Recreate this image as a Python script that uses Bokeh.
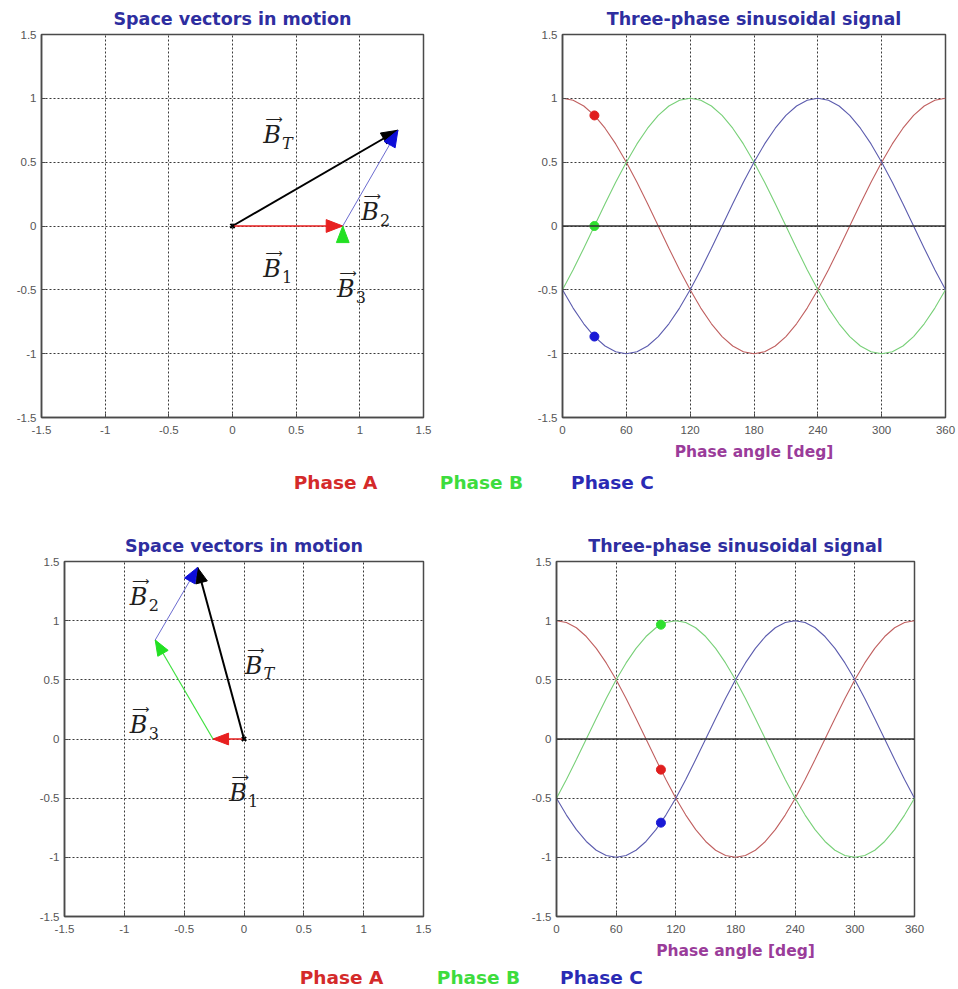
import math

from bokeh.core.properties import value
from bokeh.embed import file_html
from bokeh.layouts import column, row
from bokeh.models import FixedTicker, Range1d, Span
from bokeh.plotting import figure
from bokeh.resources import INLINE

# ---------------------------------------------------------------------------
# Data
# ---------------------------------------------------------------------------
# Phase angle grid (deg) and the phase A waveform sampled every 10 deg
angle_deg = list(range(0, 361, 10))
phase_a = [1.0, 0.985, 0.940, 0.866, 0.766, 0.643, 0.5, 0.342, 0.174, 0.0,
           -0.174, -0.342, -0.5, -0.643, -0.766, -0.866, -0.940, -0.985, -1.0,
           -0.985, -0.940, -0.866, -0.766, -0.643, -0.5, -0.342, -0.174, 0.0,
           0.174, 0.342, 0.5, 0.643, 0.766, 0.866, 0.940, 0.985, 1.0]

# phases B and C lag phase A by 120 and 240 deg (12 and 24 samples)
_period = phase_a[:-1]
phase_b = [_period[(i - 12) % 36] for i in range(len(angle_deg))]
phase_c = [_period[(i - 24) % 36] for i in range(len(angle_deg))]

# the two snapshots shown: phase angle and instantaneous phase values
snapshot_deg = [30, 105]
snapshot_a = [0.866, -0.259]
snapshot_b = [0.0, 0.966]
snapshot_c = [-0.866, -0.707]

# spatial direction of each phase winding
phase_axis_deg = [0, 120, 240]
phase_names = ["Phase A", "Phase B", "Phase C"]

vector_ticks = [-1.5, -1, -0.5, 0, 0.5, 1, 1.5]
vector_tick_labels = ["-1.5", "-1", "-0.5", "0", "0.5", "1", "1.5"]
angle_ticks = [0, 60, 120, 180, 240, 300, 360]
angle_tick_labels = ["0", "60", "120", "180", "240", "300", "360"]

# where the vector names sit in each snapshot (order: T, 1, 2, 3)
vector_subscripts = ["T", "1", "2", "3"]
label_x = [[0.31, 0.31, 1.08, 0.89], [0.08, -0.05, -0.88, -0.88]]
label_y = [[0.71, -0.34, 0.11, -0.49], [0.62, -0.46, 1.20, 0.12]]

# ---------------------------------------------------------------------------
# Styling
# ---------------------------------------------------------------------------
CURVE = ["#c06060", "#78d078", "#5c5cae"]
DOT = ["#e01e1e", "#2ee02e", "#1a1ad6"]
SHAFT = ["#e82020", "#40e040", "#6c6cd0"]
HEAD = ["#e82020", "#22e022", "#0d0dd8"]
SHAFT_W = [1.6, 1.2, 1.0]
LEGEND = ["#d42a2a", "#3ddc3d", "#2a2ab4"]
TITLE_COLOR = "#2e2ea0"
TICK_COLOR = "#555555"
FRAME_COLOR = "#4a4a4a"


def make_fig(width, height, borders, x_rng, x_ticks, x_labels, title):
    left, right, top, bottom = borders
    p = figure(width=width, height=height,
               x_range=Range1d(*x_rng), y_range=Range1d(-1.5, 1.5),
               output_backend="svg", toolbar_location=None, tools="",
               min_border_left=left, min_border_right=right,
               min_border_top=top, min_border_bottom=bottom,
               title=title)
    p.background_fill_color = "white"
    p.border_fill_color = "white"
    p.outline_line_color = FRAME_COLOR
    p.outline_line_width = 1.5

    p.title.align = "center"
    p.title.text_font = "DejaVu Sans"
    p.title.text_font_style = "bold"
    p.title.text_font_size = "17.5px"
    p.title.text_color = TITLE_COLOR
    p.title.standoff = 11

    p.xaxis.ticker = FixedTicker(ticks=x_ticks)
    p.xaxis.major_label_overrides = dict(zip(x_ticks, x_labels))
    p.yaxis.ticker = FixedTicker(ticks=vector_ticks)
    p.yaxis.major_label_overrides = dict(zip(vector_ticks, vector_tick_labels))

    for ax in (p.xaxis, p.yaxis):
        ax.axis_line_color = FRAME_COLOR
        ax.axis_line_width = 1.5
        ax.major_tick_in = 4
        ax.major_tick_out = 0
        ax.major_tick_line_color = FRAME_COLOR
        ax.minor_tick_line_color = None
        ax.major_label_text_font = "Liberation Sans"
        ax.major_label_text_font_size = "11.5px"
        ax.major_label_text_color = TICK_COLOR
    p.xaxis.major_label_standoff = 8
    p.yaxis.major_label_standoff = 5

    p.grid.grid_line_color = "#3a3a3a"
    p.grid.grid_line_dash = "2 2"
    p.grid.grid_line_width = 1
    return p


def head_patch(tx, ty, dx, dy, length=0.13, half=0.05):
    """Filled arrow head with its apex at (tx, ty) pointing along (dx, dy).
    A zero-length vector keeps an upright head."""
    n = math.hypot(dx, dy)
    ux, uy = (0.0, 1.0) if n < 1e-9 else (dx / n, dy / n)
    bx, by = tx - ux * length, ty - uy * length
    px, py = -uy * half, ux * half
    return [tx, bx + px, bx - px], [ty, by + py, by - py]


def vector_fig(k, width, height, borders):
    p = make_fig(width, height, borders, (-1.5, 1.5),
                 vector_ticks, vector_tick_labels, "Space vectors in motion")

    mags = [snapshot_a[k], snapshot_b[k], snapshot_c[k]]
    cx, cy = 0.0, 0.0
    parts = []
    for m, ang in zip(mags, phase_axis_deg):
        dx = m * math.cos(math.radians(ang))
        dy = m * math.sin(math.radians(ang))
        parts.append((cx, cy, dx, dy))
        cx, cy = cx + dx, cy + dy

    # resultant field B_T
    p.segment(x0=[0.0], y0=[0.0], x1=[cx], y1=[cy], line_color="black", line_width=2)
    hx, hy = head_patch(cx, cy, cx, cy)
    p.patch(hx, hy, fill_color="black", line_color="black", line_width=1)

    # phase contributions, chained tip to tail
    for (sx, sy, dx, dy), sc, hc, lw in zip(parts, SHAFT, HEAD, SHAFT_W):
        p.segment(x0=[sx], y0=[sy], x1=[sx + dx], y1=[sy + dy],
                  line_color=sc, line_width=lw)
        hx, hy = head_patch(sx + dx, sy + dy, dx, dy)
        p.patch(hx, hy, fill_color=hc, line_color=hc, line_width=1)

    p.scatter([0.0], [0.0], marker="x", size=6, line_color="black", line_width=2)

    xs, ys = label_x[k], label_y[k]
    p.text(x=xs, y=ys, text=["B"] * 4, text_font=value("DejaVu Serif"),
           text_font_style="italic", text_font_size="24px", text_color="#1e1e1e",
           text_align="center", text_baseline="middle")
    p.text(x=xs, y=ys, text=["\u27f6"] * 4, x_offset=2, y_offset=-16,
           text_font=value("DejaVu Sans"), text_font_size="12px", text_color="#1e1e1e",
           text_align="center", text_baseline="middle")
    p.text(x=xs, y=ys, text=vector_subscripts, x_offset=10, y_offset=8,
           text_font=value("DejaVu Serif"),
           text_font_style=["italic", "normal", "normal", "normal"],
           text_font_size="16px", text_color="#1e1e1e",
           text_align="left", text_baseline="middle")
    return p


def signal_fig(k, width, height, borders):
    p = make_fig(width, height, borders, (0, 360),
                 angle_ticks, angle_tick_labels, "Three-phase sinusoidal signal")
    p.add_layout(Span(location=0, dimension="width", line_color="#333333", line_width=1.3))
    for ys, c in zip([phase_a, phase_b, phase_c], CURVE):
        p.line(angle_deg, ys, line_color=c, line_width=1.1)
    vals = [snapshot_a[k], snapshot_b[k], snapshot_c[k]]
    p.scatter([snapshot_deg[k]] * 3, vals, size=9, fill_color=DOT, line_color=DOT)

    p.xaxis.axis_label = "Phase angle [deg]"
    p.xaxis.axis_label_text_font = "DejaVu Sans"
    p.xaxis.axis_label_text_font_style = "bold"
    p.xaxis.axis_label_text_font_size = "15.5px"
    p.xaxis.axis_label_text_color = "#9a3c9a"
    p.xaxis.axis_label_standoff = 6
    return p


def legend_strip(height, xs, y):
    p = figure(width=958, height=height, x_range=Range1d(0, 958), y_range=Range1d(0, height),
               output_backend="svg", toolbar_location=None, tools="",
               x_axis_location=None, y_axis_location=None, min_border=0)
    p.grid.visible = False
    p.outline_line_color = None
    p.background_fill_color = "white"
    p.border_fill_color = "white"
    p.text(x=xs, y=[y] * 3, text=phase_names, text_color=LEGEND,
           text_font=value("DejaVu Sans"), text_font_style="bold", text_font_size="18.5px",
           text_align="center", text_baseline="middle")
    return p


top_vec = vector_fig(0, 480, 465, (41, 57, 34, 48))
top_sig = signal_fig(0, 478, 465, (82, 13, 34, 48))
legend_top = legend_strip(35, [335, 481, 612], 18)
bot_vec = vector_fig(1, 480, 462, (64, 57, 61, 45))
bot_sig = signal_fig(1, 478, 462, (76, 44, 60, 45))
legend_bot = legend_strip(27, [341, 478, 601], 12)

layout = column(row(top_vec, top_sig), legend_top, row(bot_vec, bot_sig), legend_bot)

with open("out.html", "w") as f:
    f.write(file_html(layout, INLINE))
